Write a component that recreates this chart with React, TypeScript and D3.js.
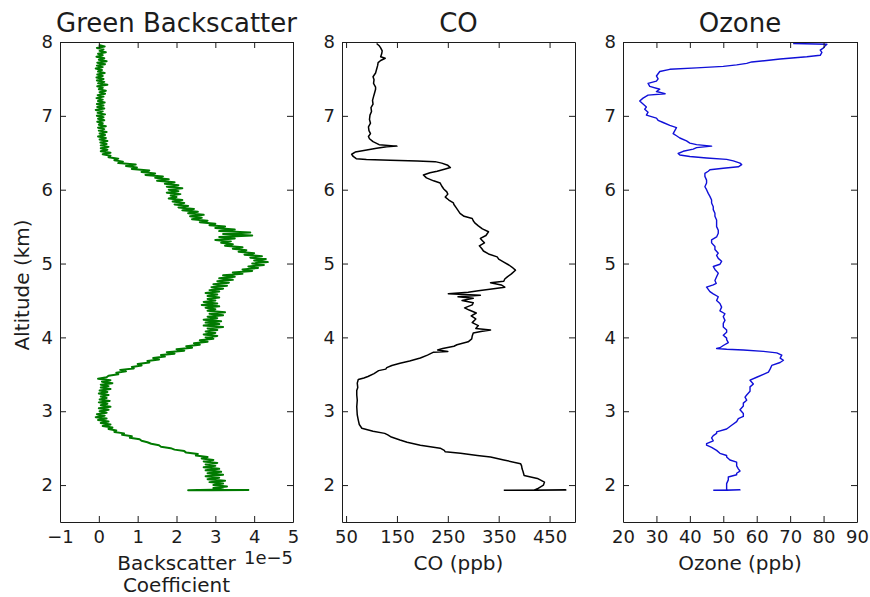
import React, { useEffect, useRef } from "react";
import * as d3 from "d3";

// altitude axis (km)
const altitudeTicks = [2, 3, 4, 5, 6, 7, 8];
const altitudeDomain = [1.5, 8];

// x axis ticks per panel
const backscatterTicks = [-1, 0, 1, 2, 3, 4, 5];
const coTicks = [50, 150, 250, 350, 450];
const ozoneTicks = [20, 30, 40, 50, 60, 70, 80, 90];

// [altitude km, backscatter coefficient in 1e-5]
const backscatterProfile: [number, number][] = [
  [7.96, 0.0], [7.94, 0.15], [7.92, -0.05], [7.9, 0.12], [7.88, 0.02], [7.86, 0.18], [7.84, -0.02], [7.82, 0.1],
  [7.8, -0.06], [7.78, 0.14], [7.76, 0.0], [7.74, 0.2], [7.72, -0.04], [7.7, 0.16], [7.68, -0.05], [7.66, 0.1],
  [7.64, -0.08], [7.62, 0.08], [7.6, -0.02], [7.58, 0.15], [7.56, -0.04], [7.54, 0.1], [7.52, -0.06], [7.5, 0.12],
  [7.48, -0.05], [7.46, 0.14], [7.44, -0.02], [7.42, 0.22], [7.4, -0.04], [7.38, 0.1], [7.36, 0.0], [7.34, 0.18],
  [7.32, 0.02], [7.3, 0.16], [7.28, -0.03], [7.26, 0.12], [7.24, -0.06], [7.22, 0.1], [7.2, -0.02], [7.18, 0.15],
  [7.16, -0.05], [7.14, 0.12], [7.12, -0.04], [7.1, 0.14], [7.08, -0.08], [7.06, 0.1], [7.04, -0.03], [7.02, 0.16],
  [7.0, -0.05], [6.98, 0.12], [6.96, -0.02], [6.94, 0.14], [6.92, -0.04], [6.9, 0.1], [6.88, 0.0], [6.86, 0.18],
  [6.84, -0.02], [6.82, 0.14], [6.8, 0.0], [6.78, 0.2], [6.76, 0.02], [6.74, 0.16], [6.72, -0.02], [6.7, 0.18],
  [6.68, 0.02], [6.66, 0.22], [6.64, 0.04], [6.62, 0.2], [6.6, 0.05], [6.58, 0.25], [6.56, 0.05], [6.54, 0.22],
  [6.52, 0.05], [6.5, 0.3], [6.48, 0.1], [6.46, 0.3], [6.44, 0.25], [6.42, 0.5], [6.4, 0.4], [6.38, 0.62],
  [6.36, 0.5], [6.34, 0.95], [6.32, 0.7], [6.3, 0.98], [6.28, 0.85], [6.26, 1.3], [6.24, 1.1], [6.22, 1.45],
  [6.2, 1.2], [6.18, 1.65], [6.16, 1.45], [6.14, 1.8], [6.12, 1.5], [6.1, 1.95], [6.08, 1.7], [6.06, 2.05],
  [6.04, 1.75], [6.02, 2.15], [6.0, 1.8], [5.98, 2.05], [5.96, 1.75], [5.94, 2.1], [5.92, 1.85], [5.9, 2.0],
  [5.88, 1.8], [5.86, 2.15], [5.84, 1.9], [5.82, 2.2], [5.8, 1.95], [5.78, 2.3], [5.76, 2.05], [5.74, 2.45],
  [5.72, 2.15], [5.7, 2.55], [5.68, 2.3], [5.66, 2.7], [5.64, 2.35], [5.62, 2.65], [5.6, 2.4], [5.58, 2.8],
  [5.56, 2.6], [5.54, 3.0], [5.52, 2.85], [5.5, 3.25], [5.48, 3.0], [5.46, 3.5], [5.44, 3.1], [5.42, 3.9],
  [5.4, 3.2], [5.38, 3.95], [5.36, 3.1], [5.34, 3.5], [5.32, 3.0], [5.3, 3.4], [5.28, 3.15], [5.26, 3.45],
  [5.24, 3.25], [5.22, 3.7], [5.2, 3.45], [5.18, 3.8], [5.16, 3.6], [5.14, 4.0], [5.12, 3.75], [5.1, 4.2],
  [5.08, 3.9], [5.06, 4.3], [5.04, 4.0], [5.02, 4.35], [5.0, 3.95], [4.98, 4.25], [4.96, 3.85], [4.94, 4.1],
  [4.92, 3.7], [4.9, 3.95], [4.88, 3.45], [4.86, 3.7], [4.84, 3.2], [4.82, 3.5], [4.8, 3.1], [4.78, 3.45],
  [4.76, 3.05], [4.74, 3.35], [4.72, 2.95], [4.7, 3.3], [4.68, 2.9], [4.66, 3.2], [4.64, 2.85], [4.62, 3.1],
  [4.6, 2.75], [4.58, 3.05], [4.56, 2.8], [4.54, 3.1], [4.52, 2.8], [4.5, 3.0], [4.48, 2.7], [4.46, 3.05],
  [4.44, 2.65], [4.42, 3.1], [4.4, 2.75], [4.38, 3.0], [4.36, 2.8], [4.34, 3.25], [4.32, 2.85], [4.3, 3.2],
  [4.28, 2.8], [4.26, 3.05], [4.24, 2.7], [4.22, 3.15], [4.2, 2.75], [4.18, 3.1], [4.16, 2.7], [4.14, 3.2],
  [4.12, 2.8], [4.1, 3.05], [4.08, 2.75], [4.06, 3.0], [4.04, 2.7], [4.02, 3.05], [4.0, 2.75], [3.98, 2.95],
  [3.96, 2.6], [3.94, 2.8], [3.92, 2.45], [3.9, 2.6], [3.88, 2.25], [3.86, 2.4], [3.84, 2.0], [3.82, 2.2],
  [3.8, 1.75], [3.78, 1.95], [3.76, 1.6], [3.74, 1.7], [3.72, 1.4], [3.7, 1.55], [3.68, 1.25], [3.66, 1.3],
  [3.64, 1.0], [3.62, 1.1], [3.6, 0.85], [3.58, 0.9], [3.56, 0.55], [3.54, 0.7], [3.52, 0.45], [3.5, 0.5],
  [3.48, 0.25], [3.46, 0.2], [3.44, -0.02], [3.42, 0.3], [3.4, 0.08], [3.38, 0.35], [3.36, 0.05], [3.34, 0.25],
  [3.32, 0.05], [3.3, 0.3], [3.28, 0.02], [3.26, 0.22], [3.24, 0.0], [3.22, 0.25], [3.2, 0.05], [3.18, 0.2],
  [3.16, 0.02], [3.14, 0.28], [3.12, 0.0], [3.1, 0.22], [3.08, 0.05], [3.06, 0.3], [3.04, 0.0], [3.02, 0.25],
  [3.0, 0.02], [2.98, 0.2], [2.96, -0.05], [2.94, 0.15], [2.92, -0.08], [2.9, 0.2], [2.88, -0.02], [2.86, 0.25],
  [2.84, 0.05], [2.82, 0.3], [2.8, 0.1], [2.78, 0.35], [2.76, 0.25], [2.74, 0.45], [2.72, 0.4], [2.7, 0.65],
  [2.68, 0.6], [2.66, 0.85], [2.64, 0.8], [2.62, 1.05], [2.6, 1.1], [2.58, 1.25], [2.56, 1.35], [2.54, 1.55],
  [2.52, 1.6], [2.5, 1.85], [2.48, 1.95], [2.46, 2.2], [2.44, 2.25], [2.42, 2.55], [2.4, 2.5], [2.38, 2.8],
  [2.36, 2.65], [2.34, 2.95], [2.32, 2.7], [2.3, 3.05], [2.28, 2.75], [2.26, 3.0], [2.24, 2.7], [2.22, 3.1],
  [2.2, 2.75], [2.18, 3.15], [2.16, 2.8], [2.14, 3.2], [2.12, 2.75], [2.1, 3.1], [2.08, 2.8], [2.06, 3.25],
  [2.04, 2.85], [2.02, 3.2], [2.0, 2.95], [1.98, 3.3], [1.96, 2.95], [1.94, 3.2], [1.93, 2.3], [1.935, 3.85],
  [1.93, 2.9],
];

// [altitude km, CO ppb]
const coProfile: [number, number][] = [
  [1.93, 360], [1.935, 482], [1.93, 420], [1.95, 426], [2.0, 438], [2.04, 440], [2.09, 426], [2.13, 400],
  [2.18, 398], [2.22, 396], [2.26, 395], [2.29, 393], [2.34, 360], [2.38, 334], [2.4, 308], [2.43, 275],
  [2.45, 245], [2.47, 243], [2.5, 235], [2.54, 196], [2.58, 170], [2.61, 156], [2.65, 139], [2.68, 132],
  [2.7, 126], [2.73, 103], [2.77, 81], [2.82, 76], [2.88, 74], [2.95, 72], [3.06, 71], [3.15, 72],
  [3.22, 71], [3.28, 71], [3.32, 73], [3.38, 72], [3.43, 74], [3.45, 85], [3.47, 93], [3.51, 105],
  [3.55, 114], [3.57, 128], [3.59, 130], [3.62, 140], [3.65, 156], [3.68, 175], [3.72, 196], [3.76, 210],
  [3.8, 222], [3.81, 250], [3.83, 230], [3.85, 240], [3.88, 262], [3.9, 268], [3.94, 290], [3.98, 297],
  [4.02, 298], [4.06, 300], [4.08, 315], [4.1, 334], [4.12, 305], [4.16, 310], [4.2, 298], [4.25, 305],
  [4.29, 296], [4.33, 306], [4.37, 292], [4.4, 283], [4.44, 298], [4.47, 300], [4.5, 278], [4.53, 300],
  [4.55, 270], [4.57, 314], [4.59, 251], [4.61, 290], [4.63, 310], [4.66, 340], [4.68, 362], [4.71, 355],
  [4.74, 334], [4.76, 360], [4.79, 362], [4.82, 367], [4.86, 375], [4.91, 383], [4.94, 378], [4.98, 370],
  [5.02, 360], [5.06, 350], [5.09, 347], [5.13, 330], [5.17, 320], [5.2, 317], [5.24, 312], [5.28, 322],
  [5.31, 318], [5.34, 314], [5.38, 325], [5.43, 330], [5.47, 318], [5.51, 310], [5.55, 303], [5.58, 300],
  [5.61, 298], [5.64, 282], [5.68, 274], [5.72, 270], [5.76, 266], [5.8, 262], [5.82, 261], [5.86, 252],
  [5.9, 245], [5.94, 250], [5.97, 248], [6.01, 242], [6.05, 238], [6.09, 235], [6.12, 222], [6.16, 208],
  [6.2, 202], [6.23, 215], [6.25, 229], [6.28, 245], [6.3, 255], [6.33, 250], [6.36, 238], [6.38, 225],
  [6.39, 190], [6.4, 137], [6.41, 90], [6.42, 70], [6.45, 64], [6.48, 61], [6.51, 68], [6.53, 85],
  [6.56, 110], [6.58, 130], [6.59, 150], [6.61, 115], [6.65, 103], [6.69, 96], [6.72, 94], [6.76, 98],
  [6.8, 95], [6.85, 94], [6.9, 98], [6.95, 96], [7.01, 97], [7.06, 100], [7.11, 99], [7.16, 103],
  [7.21, 102], [7.26, 104], [7.31, 106], [7.36, 108], [7.39, 108], [7.44, 104], [7.49, 105], [7.53, 103],
  [7.58, 108], [7.63, 110], [7.68, 112], [7.72, 113], [7.75, 118], [7.78, 127], [7.8, 118], [7.84, 120],
  [7.88, 121], [7.92, 118], [7.95, 115], [7.98, 110],
];

// [altitude km, ozone ppb]
const ozoneProfile: [number, number][] = [
  [1.93, 47], [1.935, 55], [1.93, 51], [1.95, 51], [2.02, 51], [2.07, 51.5], [2.11, 51.5], [2.14, 54],
  [2.16, 54], [2.19, 55], [2.22, 54.5], [2.26, 54], [2.31, 54], [2.34, 52], [2.38, 51], [2.4, 51],
  [2.43, 49], [2.47, 48], [2.51, 46.5], [2.54, 45], [2.56, 45], [2.6, 47], [2.64, 46.5], [2.67, 47],
  [2.7, 48], [2.72, 48], [2.76, 51], [2.81, 52.5], [2.86, 54], [2.9, 54.5], [2.93, 56], [2.97, 56],
  [3.02, 55], [3.07, 56], [3.11, 56], [3.15, 57], [3.19, 56.5], [3.22, 57], [3.27, 58], [3.33, 58],
  [3.37, 59], [3.42, 58], [3.46, 60], [3.5, 62], [3.53, 63.5], [3.57, 64], [3.62, 64.5], [3.66, 67],
  [3.69, 68], [3.72, 67], [3.76, 67.5], [3.79, 66], [3.81, 62], [3.83, 56], [3.84, 51], [3.85, 48],
  [3.86, 49], [3.89, 50], [3.93, 51.5], [3.97, 51], [3.99, 51], [4.03, 50], [4.07, 51], [4.1, 51],
  [4.14, 50], [4.19, 50], [4.23, 50.5], [4.28, 50], [4.32, 50.5], [4.36, 49], [4.41, 49.5], [4.46, 49],
  [4.5, 48], [4.55, 48.5], [4.59, 47], [4.62, 46], [4.65, 45.5], [4.68, 45], [4.71, 47], [4.73, 47.9],
  [4.77, 47.5], [4.82, 48], [4.87, 48.5], [4.92, 47.5], [4.96, 47], [4.99, 49], [5.03, 49.5], [5.07, 48.5],
  [5.11, 48], [5.14, 48.5], [5.19, 47.5], [5.23, 47.5], [5.28, 46.5], [5.32, 46.5], [5.36, 48], [5.41, 48.5],
  [5.45, 48.5], [5.5, 48], [5.55, 48], [5.59, 48], [5.64, 47.5], [5.68, 47.5], [5.73, 47], [5.77, 47],
  [5.82, 46.5], [5.86, 46.5], [5.91, 46], [5.95, 45.5], [6.0, 45], [6.04, 44.5], [6.09, 45], [6.13, 45],
  [6.18, 44.5], [6.22, 44.5], [6.25, 45.5], [6.27, 46], [6.29, 50], [6.31, 54.5], [6.34, 55.5], [6.36, 55],
  [6.39, 53], [6.41, 51], [6.43, 45], [6.45, 40], [6.47, 37], [6.49, 36.5], [6.52, 38], [6.55, 41],
  [6.57, 42], [6.59, 46.5], [6.61, 42], [6.63, 40], [6.66, 39], [6.7, 37], [6.73, 36], [6.76, 35],
  [6.8, 35.5], [6.84, 36], [6.87, 34], [6.91, 32], [6.94, 30.5], [6.97, 30], [7.01, 27], [7.05, 27.5],
  [7.09, 26.5], [7.12, 27], [7.16, 26], [7.2, 25], [7.24, 26], [7.28, 27.5], [7.3, 32.6], [7.33, 30],
  [7.36, 31], [7.4, 28], [7.44, 27.5], [7.47, 30], [7.5, 30.5], [7.54, 30], [7.57, 30.5], [7.6, 31],
  [7.63, 34], [7.65, 42], [7.67, 50], [7.69, 54], [7.71, 57], [7.73, 58.5], [7.75, 63], [7.77, 67],
  [7.8, 75], [7.82, 79], [7.86, 79.5], [7.89, 79], [7.92, 80], [7.95, 80.5], [7.97, 81], [7.98, 70.9],
];

const FONT = "'DejaVu Sans', sans-serif";
const INK = "#1c1c1c";

const App = () => {
  const svgRef = useRef<SVGSVGElement>(null);

  const drawChart = () => {
    const svg = d3.select(svgRef.current);
    const top = 42, bottom = 522;
    const y = d3.scaleLinear().domain(altitudeDomain).range([bottom, top]);
    const intFormat = d3.format("d");

    const panels = [
      {
        title: "Green Backscatter", left: 60, right: 293, domain: [-1, 5], ticks: backscatterTicks,
        data: backscatterProfile, color: "#007a00", width: 2,
        label: ["Backscatter", "Coefficient"], offset: "1e\u22125",
      },
      {
        title: "CO", left: 342, right: 575, domain: [42, 500], ticks: coTicks,
        data: coProfile, color: "#000000", width: 1.5, label: ["CO (ppb)"], offset: null,
      },
      {
        title: "Ozone", left: 623, right: 857, domain: [20, 90], ticks: ozoneTicks,
        data: ozoneProfile, color: "#1010d8", width: 1.4, label: ["Ozone (ppb)"], offset: null,
      },
    ];

    panels.forEach((p) => {
      const x = d3.scaleLinear().domain(p.domain).range([p.left, p.right]);
      const g = svg.append("g");
      const cx = (p.left + p.right) / 2;

      const line = d3.line<[number, number]>()
        .x((d) => x(d[1]))
        .y((d) => y(d[0]));

      g.append("path")
        .datum(p.data)
        .attr("d", line)
        .attr("fill", "none")
        .attr("stroke", p.color)
        .attr("stroke-width", p.width)
        .attr("stroke-linejoin", "round");

      // axes: ticks point inward on all four sides
      const styleAxis = (sel) => {
        sel.attr("font-family", FONT).attr("font-size", 18);
        sel.select(".domain").attr("stroke", INK).attr("stroke-width", 1);
        sel.selectAll(".tick line").attr("stroke", INK);
        sel.selectAll(".tick text").attr("fill", INK);
      };

      g.append("g")
        .attr("transform", `translate(0,${bottom})`)
        .call(d3.axisBottom(x).tickValues(p.ticks).tickFormat(intFormat)
          .tickSizeInner(-6).tickSizeOuter(0).tickPadding(8))
        .call(styleAxis);
      g.append("g")
        .attr("transform", `translate(0,${top})`)
        .call(d3.axisTop(x).tickValues(p.ticks).tickSizeInner(-6).tickSizeOuter(0).tickFormat(() => ""))
        .call(styleAxis);
      g.append("g")
        .attr("transform", `translate(${p.left},0)`)
        .call(d3.axisLeft(y).tickValues(altitudeTicks).tickFormat(intFormat)
          .tickSizeInner(-6).tickSizeOuter(0).tickPadding(7))
        .call(styleAxis);
      g.append("g")
        .attr("transform", `translate(${p.right},0)`)
        .call(d3.axisRight(y).tickValues(altitudeTicks).tickSizeInner(-6).tickSizeOuter(0).tickFormat(() => ""))
        .call(styleAxis);

      g.append("text")
        .attr("x", cx)
        .attr("y", 32)
        .attr("text-anchor", "middle")
        .attr("font-family", FONT)
        .attr("font-size", 26)
        .attr("fill", INK)
        .text(p.title);

      p.label.forEach((t, i) => {
        g.append("text")
          .attr("x", cx)
          .attr("y", 570 + i * 22)
          .attr("text-anchor", "middle")
          .attr("font-family", FONT)
          .attr("font-size", 20)
          .attr("fill", INK)
          .text(t);
      });

      // scale multiplier under the right end of the x axis
      if (p.offset) {
        g.append("text")
          .attr("x", p.right)
          .attr("y", 564)
          .attr("text-anchor", "end")
          .attr("font-family", FONT)
          .attr("font-size", 18)
          .attr("fill", INK)
          .text(p.offset);
      }
    });

    svg.append("text")
      .attr("transform", "translate(29,285) rotate(-90)")
      .attr("text-anchor", "middle")
      .attr("font-family", FONT)
      .attr("font-size", 20)
      .attr("fill", INK)
      .text("Altitude (km)");
  };

  useEffect(() => {
    if (svgRef.current) {
      d3.select(svgRef.current).selectAll("*").remove();
      drawChart();
    }
  }, []);

  return (
    <svg
      ref={svgRef}
      width={870}
      height={597}
      style={{ position: "absolute", left: 0, top: 0, background: "#fff" }}
    />
  );
};

export default App;
